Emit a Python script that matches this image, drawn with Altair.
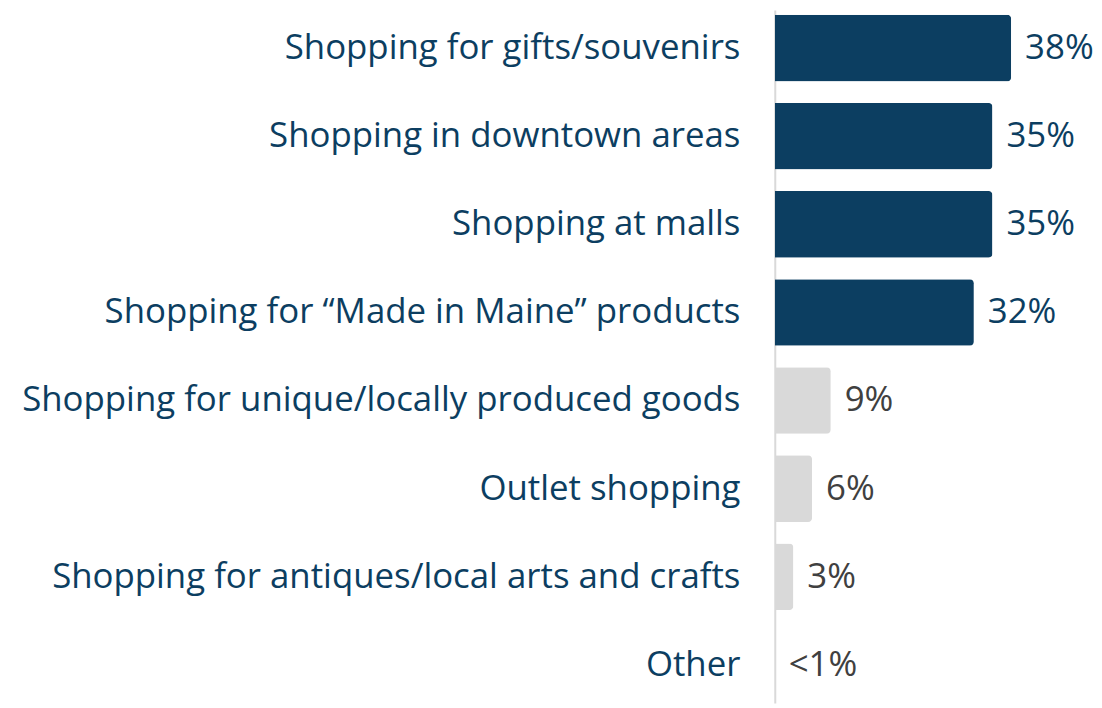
import altair as alt
import pandas as pd

categories = [
    "Shopping for gifts/souvenirs",
    "Shopping in downtown areas",
    "Shopping at malls",
    "Shopping for \u201cMade in Maine\u201d products",
    "Shopping for unique/locally produced goods",
    "Outlet shopping",
    "Shopping for antiques/local arts and crafts",
    "Other",
]
values = [38, 35, 35, 32, 9, 6, 3, 0]
value_labels = ["38%", "35%", "35%", "32%", "9%", "6%", "3%", "<1%"]
highlight = ["yes", "yes", "yes", "yes", "no", "no", "no", "no"]

df = pd.DataFrame({
    "category": categories,
    "value": values,
    "label": value_labels,
    "highlight": highlight,
})

NAVY = "#0c3e61"
GRAY_BAR = "#d9d9d9"
GRAY_TEXT = "#404040"
FONT = "Open Sans"
FS = 35

y_enc = alt.Y(
    "category:N",
    sort=categories,
    title=None,
    scale=alt.Scale(paddingInner=0.244, paddingOuter=0.056),
    axis=alt.Axis(
        domain=True,
        domainColor="#d9d9d9",
        domainWidth=2,
        ticks=False,
        labelFontSize=FS,
        labelFont=FONT,
        labelColor=NAVY,
        labelPadding=35,
        labelLimit=0,
        grid=False,
    ),
)
x_enc = alt.X("value:Q", axis=None, scale=alt.Scale(domain=[0, 44.6], nice=False))

base = alt.Chart(df).encode(y=y_enc, x=x_enc)

bars = base.mark_bar(cornerRadiusEnd=4).encode(
    color=alt.Color(
        "highlight:N",
        scale=alt.Scale(domain=["yes", "no"], range=[NAVY, GRAY_BAR]),
        legend=None,
    )
)

texts = base.mark_text(align="left", baseline="middle", dx=14, fontSize=FS, font=FONT).encode(
    text="label:N",
    color=alt.condition(
        alt.datum.highlight == "yes", alt.value(NAVY), alt.value(GRAY_TEXT)
    ),
)

chart = (
    alt.layer(bars, texts)
    .properties(
        width=279,
        height=697,
        padding={"left": 13, "top": 0, "right": 0, "bottom": 0},
    )
    .configure_view(stroke=None)
)

chart.save("out.html", embed_options={"renderer": "svg", "actions": False})
